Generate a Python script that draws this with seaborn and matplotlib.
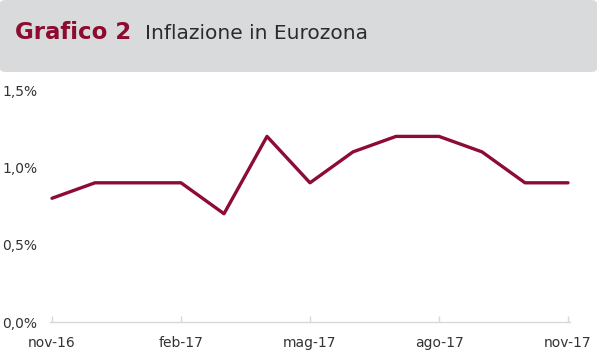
import matplotlib
matplotlib.use("Agg")
import matplotlib.pyplot as plt
import seaborn as sns
import pandas as pd
from matplotlib.patches import FancyBboxPatch

months = ["nov-16", "dic-16", "gen-17", "feb-17", "mar-17", "apr-17", "mag-17",
          "giu-17", "lug-17", "ago-17", "set-17", "ott-17", "nov-17"]
inflation = [0.8, 0.9, 0.9, 0.9, 0.7, 1.2, 0.9, 1.1, 1.2, 1.2, 1.1, 0.9, 0.9]
tick_labels = ["nov-16", "feb-17", "mag-17", "ago-17", "nov-17"]
y_ticks = [0.0, 0.5, 1.0, 1.5]

df = pd.DataFrame({"idx": range(len(months)), "mese": months, "val": inflation})

sns.set_theme(style="white")
plt.rcParams["font.family"] = ["DejaVu Sans"]

fig = plt.figure(figsize=(6, 3.6), dpi=100)
fig.patch.set_facecolor("white")

# header band
band = FancyBboxPatch((0, 288/360), 597/600, 72/360, boxstyle="round,pad=0,rounding_size=0.01",
                      transform=fig.transFigure, facecolor="#D9DADC", edgecolor="none", zorder=0)
fig.patches.append(band)
fig.text(15/600, 1 - 39/360, "Grafico 2", color="#8C0B2E", fontsize=16.5, fontweight="bold",
         family="DejaVu Sans", va="baseline", ha="left")
fig.text(145/600, 1 - 39/360, "Inflazione in Eurozona", color="#2B2B2B", fontsize=14.5,
         family="DejaVu Sans", va="baseline", ha="left")

ax = fig.add_axes([50/600, (360-322)/360, 520/600, (322-90)/360])
sns.lineplot(data=df, x="idx", y="val", ax=ax, color="#8C0B3A", linewidth=2.4, clip_on=False)

ax.set_xlim(-2/43, 12 + 2/43)
ax.set_ylim(0, 1.5)
ax.set_xticks([0, 3, 6, 9, 12])
ax.set_xticklabels(tick_labels)
ax.set_yticks(y_ticks)
ax.set_yticklabels([f"{v:.1f}%".replace(".", ",") for v in y_ticks])
ax.set_xlabel("")
ax.set_ylabel("")
for s in ["top", "right", "left"]:
    ax.spines[s].set_visible(False)
ax.spines["bottom"].set_color("#D8D8D8")
ax.spines["bottom"].set_linewidth(1.0)
ax.tick_params(axis="x", direction="in", length=4, color="#D8D8D8", width=1,
               labelsize=10, labelcolor="#333333", pad=10, bottom=True)
ax.tick_params(axis="y", length=0, labelsize=10, labelcolor="#333333", pad=9)
ax.grid(False)

fig.savefig("out.png", dpi=100)
